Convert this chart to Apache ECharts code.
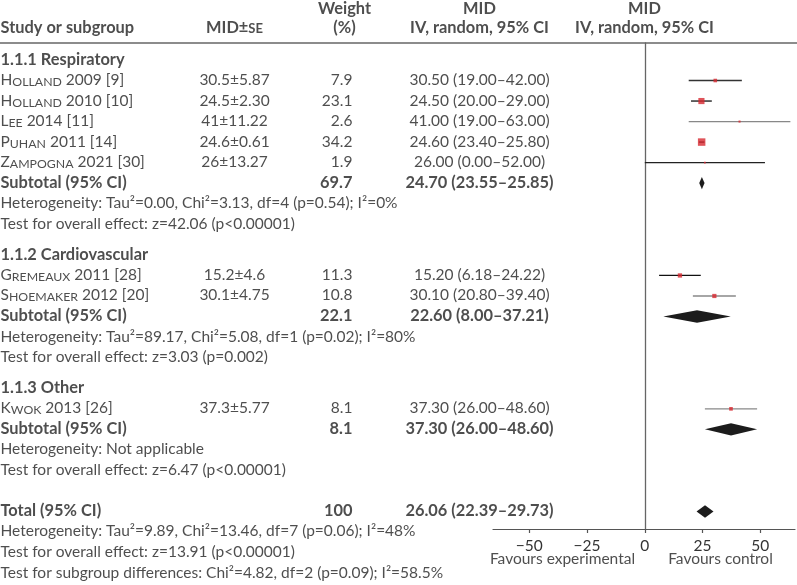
<!DOCTYPE html>
<html><head><meta charset="utf-8">
<script src="https://cdn.jsdelivr.net/npm/echarts@6/dist/echarts.min.js"></script>
<style>html,body{margin:0;padding:0;background:#fff}#c{width:797px;height:585px}</style>
</head><body><div id="c"></div>
<script>
// ---------- data ----------
const groupNames = ['1.1.1 Respiratory', '1.1.2 Cardiovascular', '1.1.3 Other'];
const authors = ['Holland', 'Holland', 'Lee', 'Puhan', 'Zampogna', 'Gremeaux', 'Shoemaker', 'Kwok'];
const refs = ['2009 [9]', '2010 [10]', '2014 [11]', '2011 [14]', '2021 [30]', '2011 [28]', '2012 [20]', '2013 [26]'];
const studyGroup = [0, 0, 0, 0, 0, 1, 1, 2];
const midSe = ['30.5±5.87', '24.5±2.30', '41±11.22', '24.6±0.61', '26±13.27', '15.2±4.6', '30.1±4.75', '37.3±5.77'];
const weights = [7.9, 23.1, 2.6, 34.2, 1.9, 11.3, 10.8, 8.1];
const est = [30.50, 24.50, 41.00, 24.60, 26.00, 15.20, 30.10, 37.30];
const ciLow = [19.00, 20.00, 19.00, 23.40, 0.00, 6.18, 20.80, 26.00];
const ciHigh = [42.00, 29.00, 63.00, 25.80, 52.00, 24.22, 39.40, 48.60];
const subWeight = [69.7, 22.1, 8.1];
const subEst = [24.70, 22.60, 37.30];
const subLow = [23.55, 8.00, 26.00];
const subHigh = [25.85, 37.21, 48.60];
const subHet = [
  'Heterogeneity: Tau²=0.00, Chi²=3.13, df=4 (p=0.54); I²=0%',
  'Heterogeneity: Tau²=89.17, Chi²=5.08, df=1 (p=0.02); I²=80%',
  'Heterogeneity: Not applicable'];
const subTest = [
  'Test for overall effect: z=42.06 (p<0.00001)',
  'Test for overall effect: z=3.03 (p=0.002)',
  'Test for overall effect: z=6.47 (p<0.00001)'];
const totalWeight = 100;
const totalEst = 26.06, totalLow = 22.39, totalHigh = 29.73;
const totalNotes = [
  'Heterogeneity: Tau²=9.89, Chi²=13.46, df=7 (p=0.06); I²=48%',
  'Test for overall effect: z=13.91 (p<0.00001)',
  'Test for subgroup differences: Chi²=4.82, df=2 (p=0.09); I²=58.5%'];
const xTicks = [-50, -25, 0, 25, 50];
const axisNames = ['Favours experimental', 'Favours control'];

// ---------- layout ----------
const FONT = 'Lato';
const FS = 15.5, FB = 16.4, SC = 12.3, SCB = 13;
const TXT = '#222';
const P = 20.52, Y0 = 60;           // row pitch & first row centre (px)
const colName = 1, colMid = 235, colW = 353, colCI = 480;
const lineCol = ['#333', '#111', '#888', '#111', '#222', '#111', '#888', '#888'];

function fmt2(v) { return v.toFixed(2); }
function ciText(e, l, h) { return fmt2(e) + ' (' + fmt2(l) + '–' + fmt2(h) + ')'; }
function smallCaps(name) { return '{a|' + name[0] + '}{b|' + name.slice(1).toUpperCase() + '}'; }

// assign row positions
const studyRow = [], subRow = [], headRow = [], hetRow = [], testRow = [];
let k = 0;
for (let g = 0; g < groupNames.length; g++) {
  headRow[g] = k; k++;
  for (let i = 0; i < authors.length; i++) if (studyGroup[i] === g) { studyRow[i] = k; k++; }
  subRow[g] = k; k++;
  hetRow[g] = k; k++;
  testRow[g] = k; k++;
  k += 0.5;
}
k += 0.5;
const totalRow = k;

// text items
const texts = [];
function T(x, row, text, align, bold) {
  texts.push({ value: [x, row], label: { formatter: text, align: align,
    fontWeight: bold ? 'bold' : 'normal', fontSize: bold ? FB : FS } });
}
const hRow1 = (9 - Y0) / P, hRow2 = (28 - Y0) / P;
T(colName, hRow2, 'Study or subgroup', 'left', true);
T(colMid, hRow2, '{hb|MID±}{sb|SE}', 'center', true);
T(345, hRow1, 'Weight', 'center', true);
T(345, hRow2, '(%)', 'center', true);
T(colCI, hRow1, 'MID', 'center', true);
T(colCI, hRow2, 'IV, random, 95% CI', 'center', true);
T(645, hRow1, 'MID', 'center', true);
T(645, hRow2, 'IV, random, 95% CI', 'center', true);
for (let g = 0; g < groupNames.length; g++) {
  T(colName, headRow[g], groupNames[g], 'left', true);
  T(colName, subRow[g], 'Subtotal (95% CI)', 'left', true);
  T(colW, subRow[g], String(subWeight[g]), 'right', true);
  T(colCI, subRow[g], ciText(subEst[g], subLow[g], subHigh[g]), 'center', true);
  T(colName, hetRow[g], subHet[g], 'left', false);
  T(colName, testRow[g], subTest[g], 'left', false);
}
for (let i = 0; i < authors.length; i++) {
  T(colName, studyRow[i], smallCaps(authors[i]) + '{a| ' + refs[i] + '}', 'left', false);
  T(colMid, studyRow[i], midSe[i], 'center', false);
  T(colW, studyRow[i], weights[i].toFixed(1), 'right', false);
  T(colCI, studyRow[i], ciText(est[i], ciLow[i], ciHigh[i]), 'center', false);
}
T(colName, totalRow, 'Total (95% CI)', 'left', true);
T(colW, totalRow, String(totalWeight), 'right', true);
T(colCI, totalRow, ciText(totalEst, totalLow, totalHigh), 'center', true);
totalNotes.forEach((t, j) => T(colName, totalRow + 1 + j, t, 'left', false));
const favRow = (559 - Y0) / P;
T(563, favRow, axisNames[0], 'center', false);
T(721, favRow, axisNames[1], 'center', false);

// forest data
const squares = authors.map((a, i) => ({ value: [est[i], studyRow[i]], symbolSize: Math.sqrt(weights[i]) * 1.28 }));
const ciData = authors.map((a, i) => [ciLow[i], ciHigh[i], studyRow[i], i]);
const diamonds = subEst.map((e, g) => [subLow[g], e, subHigh[g], subRow[g]]);
diamonds.push([totalLow, totalEst, totalHigh, totalRow]);

const chart = echarts.init(document.getElementById('c'), null, { renderer: 'canvas' });
chart.setOption({
  animation: false,
  textStyle: { fontFamily: FONT },
  grid: [
    { left: 0, right: 0, top: 0, bottom: 0 },
    { left: 493, right: 2, top: 43, bottom: 56 }
  ],
  xAxis: [
    { gridIndex: 0, type: 'value', min: 0, max: 797, show: false },
    { gridIndex: 1, type: 'value', min: -65.7, max: 65.0,
      axisLine: { show: true, onZero: false, lineStyle: { color: '#555', width: 1.2 } },
      axisTick: { show: true, length: 4, customValues: xTicks, lineStyle: { color: '#555', width: 1.2 } },
      axisLabel: { show: true, customValues: xTicks, margin: 9, fontSize: FS, color: '#333', fontFamily: FONT,
        formatter: v => String(v).replace('-', '−') },
      splitLine: { show: false } }
  ],
  yAxis: [
    { gridIndex: 0, type: 'value', inverse: true, min: -Y0 / P, max: (585 - Y0) / P, show: false },
    { gridIndex: 1, type: 'value', inverse: true, min: (43 - Y0) / P, max: (529 - Y0) / P,
      axisLine: { show: true, onZero: true, lineStyle: { color: '#666', width: 1.3 } },
      axisTick: { show: false }, axisLabel: { show: false }, splitLine: { show: false } }
  ],
  graphic: [{ type: 'line', shape: { x1: 0, y1: 43, x2: 797, y2: 43 }, style: { stroke: '#666', lineWidth: 1.3 }, silent: true }],
  series: [
    { type: 'scatter', xAxisIndex: 0, yAxisIndex: 0, symbolSize: 1, silent: true,
      itemStyle: { color: 'rgba(0,0,0,0)' },
      label: { show: true, position: [0, 0], verticalAlign: 'middle', fontSize: FS, color: TXT, fontFamily: FONT,
        rich: {
          a: { fontSize: FS, color: TXT, fontFamily: FONT, verticalAlign: 'bottom' },
          b: { fontSize: SC, color: TXT, fontFamily: FONT, verticalAlign: 'bottom' },
          hb: { fontSize: FB, fontWeight: 'bold', color: TXT, fontFamily: FONT, verticalAlign: 'bottom' },
          sb: { fontSize: SCB, fontWeight: 'bold', color: TXT, fontFamily: FONT, verticalAlign: 'bottom' }
        } },
      data: texts },
    { type: 'custom', xAxisIndex: 1, yAxisIndex: 1, silent: true, clip: false,
      renderItem: (params, api) => {
        const p1 = api.coord([api.value(0), api.value(2)]);
        const p2 = api.coord([api.value(1), api.value(2)]);
        return { type: 'line', shape: { x1: p1[0], y1: p1[1], x2: p2[0], y2: p2[1] },
          style: { stroke: lineCol[api.value(3)], lineWidth: 1.3 } };
      },
      encode: { x: [0, 1], y: 2 }, data: ciData },
    { type: 'scatter', xAxisIndex: 1, yAxisIndex: 1, symbol: 'rect', silent: true,
      itemStyle: { color: '#d7282f' }, data: squares, z: 5 },
    { type: 'custom', xAxisIndex: 1, yAxisIndex: 1, silent: true, clip: false,
      renderItem: (params, api) => {
        const l = api.coord([api.value(0), api.value(3)]);
        const m = api.coord([api.value(1), api.value(3)]);
        const r = api.coord([api.value(2), api.value(3)]);
        const h = 6.2;
        return { type: 'polygon', shape: { points: [[l[0], l[1]], [m[0], m[1] - h], [r[0], r[1]], [m[0], m[1] + h]] },
          style: { fill: '#1c1c1c' } };
      },
      encode: { x: [0, 1, 2], y: 3 }, data: diamonds }
  ]
});
</script></body></html>
